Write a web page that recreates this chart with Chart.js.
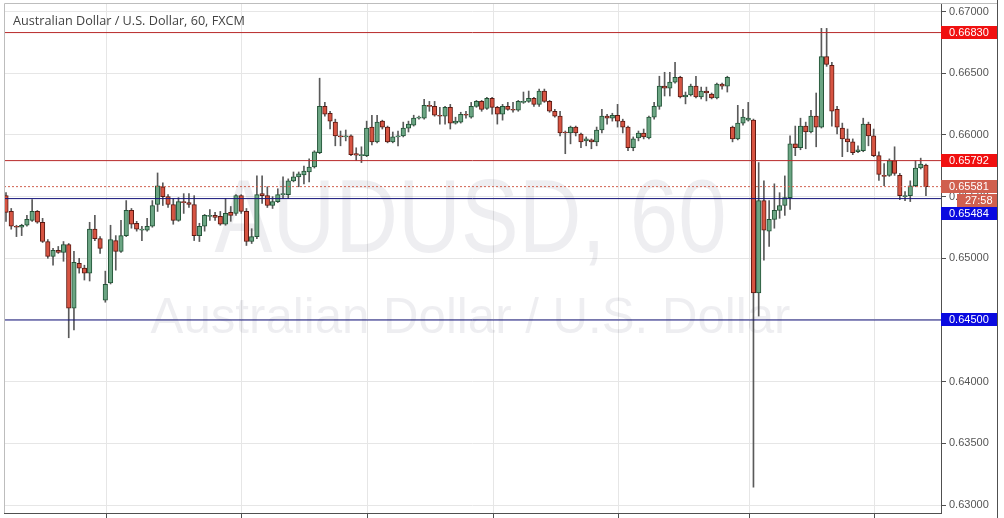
<!DOCTYPE html>
<html>
<head>
<meta charset="utf-8">
<script src="https://cdn.jsdelivr.net/npm/chart.js@4.4.1/dist/chart.umd.min.js"></script>
<style>
  html, body { margin: 0; padding: 0; background: #fff; }
  canvas { display: block; }
</style>
</head>
<body>
<canvas id="chart" width="1004" height="518"></canvas>
<script>
// AUD/USD hourly candles (oldest first)
const OPEN = [
  0.65508,0.65380,0.65260,0.65252,0.65268,0.65308,0.65380,0.65292,0.65136,0.65016,
  0.65064,0.65048,0.65112,0.64596,0.64960,0.64920,0.64880,0.65236,0.65160,0.64660,
  0.64800,0.65144,0.65056,0.65184,0.65388,0.65284,0.65228,0.65228,0.65260,0.65436,
  0.65580,0.65500,0.65436,0.65308,0.65460,0.65452,0.65436,0.65184,0.65260,0.65340,
  0.65348,0.65340,0.65276,0.65372,0.65364,0.65508,0.65380,0.65136,0.65176,0.65524,
  0.65508,0.65428,0.65460,0.65516,0.65516,0.65628,0.65660,0.65676,0.65700,0.65740,
  0.65856,0.66232,0.66176,0.66104,0.65992,0.65984,0.65992,0.65848,0.65832,0.65832,
  0.66064,0.65944,0.66112,0.66064,0.65944,0.65984,0.65992,0.66056,0.66080,0.66136,
  0.66136,0.66240,0.66232,0.66160,0.66152,0.66224,0.66096,0.66104,0.66168,0.66144,
  0.66232,0.66272,0.66216,0.66296,0.66224,0.66168,0.66232,0.66208,0.66200,0.66264,
  0.66272,0.66296,0.66248,0.66356,0.66272,0.66192,0.66152,0.66024,0.66016,0.66064,
  0.66008,0.65952,0.65960,0.65944,0.66040,0.66152,0.66136,0.66160,0.66112,0.66064,
  0.65896,0.65976,0.66016,0.65976,0.66144,0.66232,0.66396,0.66380,0.66428,0.66468,
  0.66308,0.66324,0.66396,0.66308,0.66356,0.66332,0.66300,0.66412,0.66396,0.66064,
  0.65968,0.66096,0.66120,0.66120,0.64720,0.65468,0.65220,0.65316,0.65388,0.65428,
  0.65492,0.65928,0.65896,0.66072,0.66024,0.66152,0.66064,0.66636,0.66564,0.66208,
  0.66056,0.65968,0.65944,0.65864,0.65872,0.66088,0.65992,0.65832,0.65672,0.65672,
  0.65792,0.65672,0.65500,0.65508,0.65588,0.65732,0.65756
];
const HIGH = [
  0.65532,0.65404,0.65268,0.65276,0.65348,0.65476,0.65388,0.65324,0.65152,0.65080,
  0.65096,0.65136,0.65120,0.65056,0.65000,0.64944,0.65292,0.65348,0.65176,0.64896,
  0.65268,0.65184,0.65308,0.65468,0.65404,0.65300,0.65260,0.65324,0.65468,0.65692,
  0.65612,0.65516,0.65484,0.65492,0.65524,0.65524,0.65508,0.65284,0.65356,0.65396,
  0.65372,0.65380,0.65484,0.65420,0.65516,0.65516,0.65404,0.65240,0.65668,0.65668,
  0.65580,0.65500,0.65564,0.65660,0.65644,0.65700,0.65700,0.65748,0.65806,0.65872,
  0.66460,0.66264,0.66192,0.66128,0.66032,0.66040,0.66000,0.65896,0.65904,0.66112,
  0.66160,0.66160,0.66120,0.66072,0.66024,0.66032,0.66104,0.66112,0.66160,0.66152,
  0.66288,0.66272,0.66272,0.66224,0.66232,0.66248,0.66144,0.66184,0.66192,0.66264,
  0.66280,0.66280,0.66304,0.66304,0.66232,0.66248,0.66264,0.66264,0.66280,0.66348,
  0.66356,0.66304,0.66372,0.66372,0.66280,0.66208,0.66192,0.66032,0.66072,0.66072,
  0.66016,0.65984,0.65968,0.66064,0.66208,0.66168,0.66176,0.66248,0.66128,0.66072,
  0.65984,0.66032,0.66048,0.66152,0.66264,0.66476,0.66508,0.66508,0.66588,0.66476,
  0.66348,0.66412,0.66476,0.66388,0.66388,0.66340,0.66420,0.66420,0.66476,0.66072,
  0.66240,0.66208,0.66264,0.66128,0.65776,0.65628,0.65468,0.65604,0.65532,0.65668,
  0.65992,0.66072,0.66136,0.66104,0.66200,0.66340,0.66864,0.66864,0.66588,0.66232,
  0.66096,0.66048,0.65968,0.65912,0.66136,0.66104,0.66048,0.65864,0.65768,0.65806,
  0.65904,0.65688,0.65540,0.65628,0.65792,0.65812,0.65764
];
const LOW = [
  0.65300,0.65236,0.65176,0.65184,0.65260,0.65300,0.65284,0.65128,0.65000,0.64944,
  0.65040,0.64976,0.64356,0.64420,0.64880,0.64824,0.64816,0.65144,0.65040,0.64644,
  0.64792,0.64904,0.65048,0.65176,0.65244,0.65220,0.65144,0.65220,0.65252,0.65380,
  0.65428,0.65412,0.65276,0.65300,0.65364,0.65412,0.65144,0.65136,0.65220,0.65308,
  0.65308,0.65268,0.65268,0.65300,0.65348,0.65364,0.65104,0.65120,0.65160,0.65444,
  0.65412,0.65404,0.65452,0.65484,0.65484,0.65620,0.65580,0.65604,0.65620,0.65732,
  0.65848,0.66152,0.66048,0.65912,0.65912,0.65952,0.65832,0.65792,0.65776,0.65824,
  0.65920,0.65936,0.66048,0.65936,0.65936,0.65912,0.65984,0.66024,0.66072,0.66128,
  0.66128,0.66192,0.66152,0.66088,0.66088,0.66048,0.66088,0.66096,0.66136,0.66136,
  0.66224,0.66192,0.66208,0.66168,0.66088,0.66120,0.66200,0.66184,0.66192,0.66256,
  0.66264,0.66232,0.66232,0.66264,0.66184,0.66144,0.65992,0.65848,0.65928,0.65992,
  0.65896,0.65912,0.65888,0.65912,0.66016,0.66088,0.66112,0.66064,0.66016,0.65872,
  0.65872,0.65952,0.65968,0.65968,0.66128,0.66208,0.66316,0.66316,0.66420,0.66300,
  0.66252,0.66316,0.66300,0.66292,0.66276,0.66292,0.66292,0.66372,0.66348,0.65944,
  0.65960,0.66080,0.66112,0.63144,0.64532,0.64984,0.65096,0.65244,0.65324,0.65348,
  0.65396,0.65832,0.65880,0.65888,0.66016,0.65904,0.66056,0.66556,0.66072,0.66008,
  0.65824,0.65864,0.65840,0.65856,0.65864,0.65912,0.65824,0.65632,0.65588,0.65664,
  0.65672,0.65476,0.65468,0.65460,0.65580,0.65724,0.65508
];
const CLOSE = [
  0.65372,0.65260,0.65252,0.65268,0.65316,0.65380,0.65292,0.65136,0.65016,0.65064,
  0.65048,0.65112,0.64596,0.64968,0.64920,0.64880,0.65236,0.65160,0.65080,0.64790,
  0.65152,0.65056,0.65184,0.65388,0.65276,0.65236,0.65236,0.65260,0.65428,0.65588,
  0.65500,0.65436,0.65308,0.65460,0.65452,0.65436,0.65184,0.65260,0.65348,0.65348,
  0.65332,0.65276,0.65364,0.65348,0.65508,0.65380,0.65136,0.65176,0.65516,0.65508,
  0.65428,0.65460,0.65516,0.65524,0.65628,0.65660,0.65684,0.65708,0.65740,0.65864,
  0.66232,0.66168,0.66112,0.65992,0.65984,0.65992,0.65840,0.65836,0.65840,0.66056,
  0.65944,0.66104,0.66064,0.65944,0.65984,0.65992,0.66056,0.66088,0.66136,0.66144,
  0.66240,0.66232,0.66160,0.66152,0.66224,0.66096,0.66112,0.66168,0.66160,0.66232,
  0.66272,0.66208,0.66296,0.66224,0.66168,0.66232,0.66208,0.66200,0.66272,0.66272,
  0.66296,0.66248,0.66356,0.66272,0.66192,0.66152,0.66016,0.66016,0.66064,0.66016,
  0.65944,0.65968,0.65944,0.66040,0.66152,0.66136,0.66160,0.66112,0.66064,0.65896,
  0.65968,0.66016,0.65984,0.66144,0.66232,0.66396,0.66380,0.66428,0.66468,0.66308,
  0.66324,0.66396,0.66308,0.66356,0.66340,0.66300,0.66412,0.66396,0.66468,0.65968,
  0.66096,0.66144,0.66136,0.64720,0.65468,0.65228,0.65316,0.65388,0.65428,0.65492,
  0.65928,0.65896,0.66072,0.66024,0.66152,0.66064,0.66636,0.66572,0.66192,0.66064,
  0.65968,0.65944,0.65856,0.65880,0.66088,0.65992,0.65832,0.65680,0.65664,0.65792,
  0.65688,0.65508,0.65508,0.65588,0.65732,0.65764,0.65581
];

// price axis ticks and the day separators (in bar index units)
const Y_TICKS = [0.630, 0.635, 0.640, 0.645, 0.650, 0.655, 0.660, 0.665, 0.670];
const DAY_TICKS = [19.32, 45.15, 69.07, 93.18, 117.09, 142.15, 166.07];

// horizontal levels drawn on the chart
const RED_LEVELS = [0.66830, 0.65792];
const BLUE_LEVELS = [0.65484, 0.64500];
const LAST_PRICE = 0.65581;
const COUNTDOWN = '27:58';

const TITLE = 'Australian Dollar / U.S. Dollar, 60, FXCM';
const WATERMARK_SYMBOL = 'AUDUSD, 60';
const WATERMARK_NAME = 'Australian Dollar / U.S. Dollar';

// view window
const X_MIN = -0.383, X_MAX = 178.88;
const Y_MIN = 0.629353, Y_MAX = 0.670697;

const UP = '#6ba583', UP_BORDER = '#225437';
const DOWN = '#d75442', DOWN_BORDER = '#5b1a13';
const WICK = '#5a5a5a';
const RED_LINE = '#b82a2a', RED_TAG = '#f01010';
const BLUE_LINE = '#13137a', BLUE_TAG = '#0a0ae0';
const LAST_COLOR = '#d0604f';
const AXIS = '#505050';
const GRID = '#e6e6e6';

const idx = OPEN.map((_, i) => i);
const up = idx.map((i) => CLOSE[i] >= OPEN[i]);

function levelLine(value, color, dash) {
  return {
    type: 'line',
    data: [{ x: X_MIN, y: value }, { x: X_MAX, y: value }],
    borderColor: color,
    borderWidth: 1,
    borderDash: dash || [],
    pointRadius: 0,
    order: 0,
  };
}

function fitFont(ctx, text, width, family) {
  ctx.font = `100px ${family}`;
  const w = ctx.measureText(text).width;
  ctx.font = `${(100 * width) / w}px ${family}`;
}

function tag(ctx, y, x0, x1, bg, text) {
  const top = Math.round(y - 6.5);
  ctx.fillStyle = bg;
  ctx.fillRect(x0, top, x1 - x0, 13);
  ctx.fillStyle = '#fff';
  ctx.font = '11px "Liberation Sans"';
  ctx.textAlign = 'left';
  ctx.textBaseline = 'middle';
  ctx.fillText(text, x0 + 8, top + 7);
}

function noPad(s) {
  s.paddingTop = 0;
  s.paddingBottom = 0;
  s.paddingLeft = 0;
  s.paddingRight = 0;
}

const decor = {
  id: 'decor',
  beforeDatasetsDraw(chart) {
    const { ctx, chartArea: a } = chart;
    const cx = (a.left + a.right) / 2 - 2;
    ctx.save();
    ctx.beginPath();
    ctx.rect(a.left, a.top, a.right - a.left, a.bottom - a.top);
    ctx.clip();
    ctx.fillStyle = 'rgba(30,30,70,0.075)';
    ctx.textAlign = 'center';
    ctx.textBaseline = 'alphabetic';
    // symbol line: fitted to width, then stretched to the taller letters of the original
    ctx.save();
    ctx.translate(cx, 252);
    ctx.scale(1, 1.2);
    fitFont(ctx, WATERMARK_SYMBOL, 512, '"Liberation Sans"');
    ctx.fillText(WATERMARK_SYMBOL, 0, 0);
    ctx.restore();
    fitFont(ctx, WATERMARK_NAME, 640, '"Liberation Sans"');
    ctx.fillText(WATERMARK_NAME, cx, 333);
    ctx.restore();
  },
  afterDraw(chart) {
    const { ctx, chartArea: a, scales } = chart;
    const y = scales.y;
    ctx.save();

    // frame
    ctx.strokeStyle = '#bdbdbd';
    ctx.lineWidth = 1;
    ctx.beginPath();
    ctx.moveTo(a.left + 0.5, a.bottom);
    ctx.lineTo(a.left + 0.5, a.top + 0.5);
    ctx.lineTo(997.5, a.top + 0.5);
    ctx.stroke();
    ctx.strokeStyle = AXIS;
    ctx.beginPath();
    ctx.moveTo(997.5, 0);
    ctx.lineTo(997.5, 518);
    ctx.stroke();

    // title
    ctx.fillStyle = '#434343';
    ctx.textAlign = 'left';
    ctx.textBaseline = 'alphabetic';
    fitFont(ctx, TITLE, 232, '"Open Sans"');
    ctx.fillText(TITLE, 13, 25);

    // price tags on the axis
    const x0 = a.right, x1 = 997;
    RED_LEVELS.forEach((v) => tag(ctx, y.getPixelForValue(v), x0, x1, RED_TAG, v.toFixed(5)));
    const lastY = y.getPixelForValue(LAST_PRICE);
    tag(ctx, lastY, x0, x1, LAST_COLOR, LAST_PRICE.toFixed(5));
    const cdY = lastY + 13.5;
    tag(ctx, cdY, 957, x1, LAST_COLOR, COUNTDOWN);
    let floor = cdY + 13.5;
    BLUE_LEVELS.forEach((v) => {
      const py = Math.max(y.getPixelForValue(v), floor);
      tag(ctx, py, x0, x1, BLUE_TAG, v.toFixed(5));
      floor = py + 13.5;
    });
    ctx.restore();
  },
};

new Chart(document.getElementById('chart'), {
  type: 'bar',
  data: {
    datasets: [
      {
        label: 'wick',
        data: idx.map((i) => ({ x: i, y: [LOW[i], HIGH[i]] })),
        backgroundColor: WICK,
        barThickness: 1,
        grouped: false,
        order: 2,
      },
      {
        label: 'body',
        data: idx.map((i) => ({ x: i, y: [OPEN[i], CLOSE[i]] })),
        backgroundColor: up.map((u) => (u ? UP : DOWN)),
        borderColor: up.map((u) => (u ? UP_BORDER : DOWN_BORDER)),
        borderWidth: 1,
        borderSkipped: false,
        barThickness: 4.5,
        grouped: false,
        order: 1,
      },
      ...RED_LEVELS.map((v) => levelLine(v, RED_LINE)),
      levelLine(LAST_PRICE, LAST_COLOR, [2, 2]),
      ...BLUE_LEVELS.map((v) => levelLine(v, BLUE_LINE)),
    ],
  },
  options: {
    responsive: false,
    animation: false,
    devicePixelRatio: 1,
    layout: { padding: { left: 4, top: 3, right: 0, bottom: 0 } },
    plugins: { legend: { display: false }, tooltip: { enabled: false } },
    scales: {
      x: {
        type: 'linear',
        min: X_MIN,
        max: X_MAX,
        offset: false,
        afterBuildTicks: (s) => { s.ticks = DAY_TICKS.map((v) => ({ value: v })); },
        afterFit: (s) => { s.height = 5; noPad(s); },
        ticks: { display: false },
        grid: { offset: false, color: GRID, tickColor: AXIS, tickLength: 5 },
        border: { color: AXIS },
      },
      y: {
        type: 'linear',
        position: 'right',
        min: Y_MIN,
        max: Y_MAX,
        afterBuildTicks: (s) => { s.ticks = Y_TICKS.map((v) => ({ value: v })); },
        afterFit: (s) => { s.width = 63; noPad(s); },
        ticks: {
          callback: (v) => Number(v).toFixed(5),
          font: { family: 'Liberation Sans', size: 11 },
          color: '#555',
          padding: 3,
        },
        grid: { color: GRID, tickColor: AXIS, tickLength: 5 },
        border: { color: AXIS },
      },
    },
  },
  plugins: [decor],
});
</script>
</body>
</html>
